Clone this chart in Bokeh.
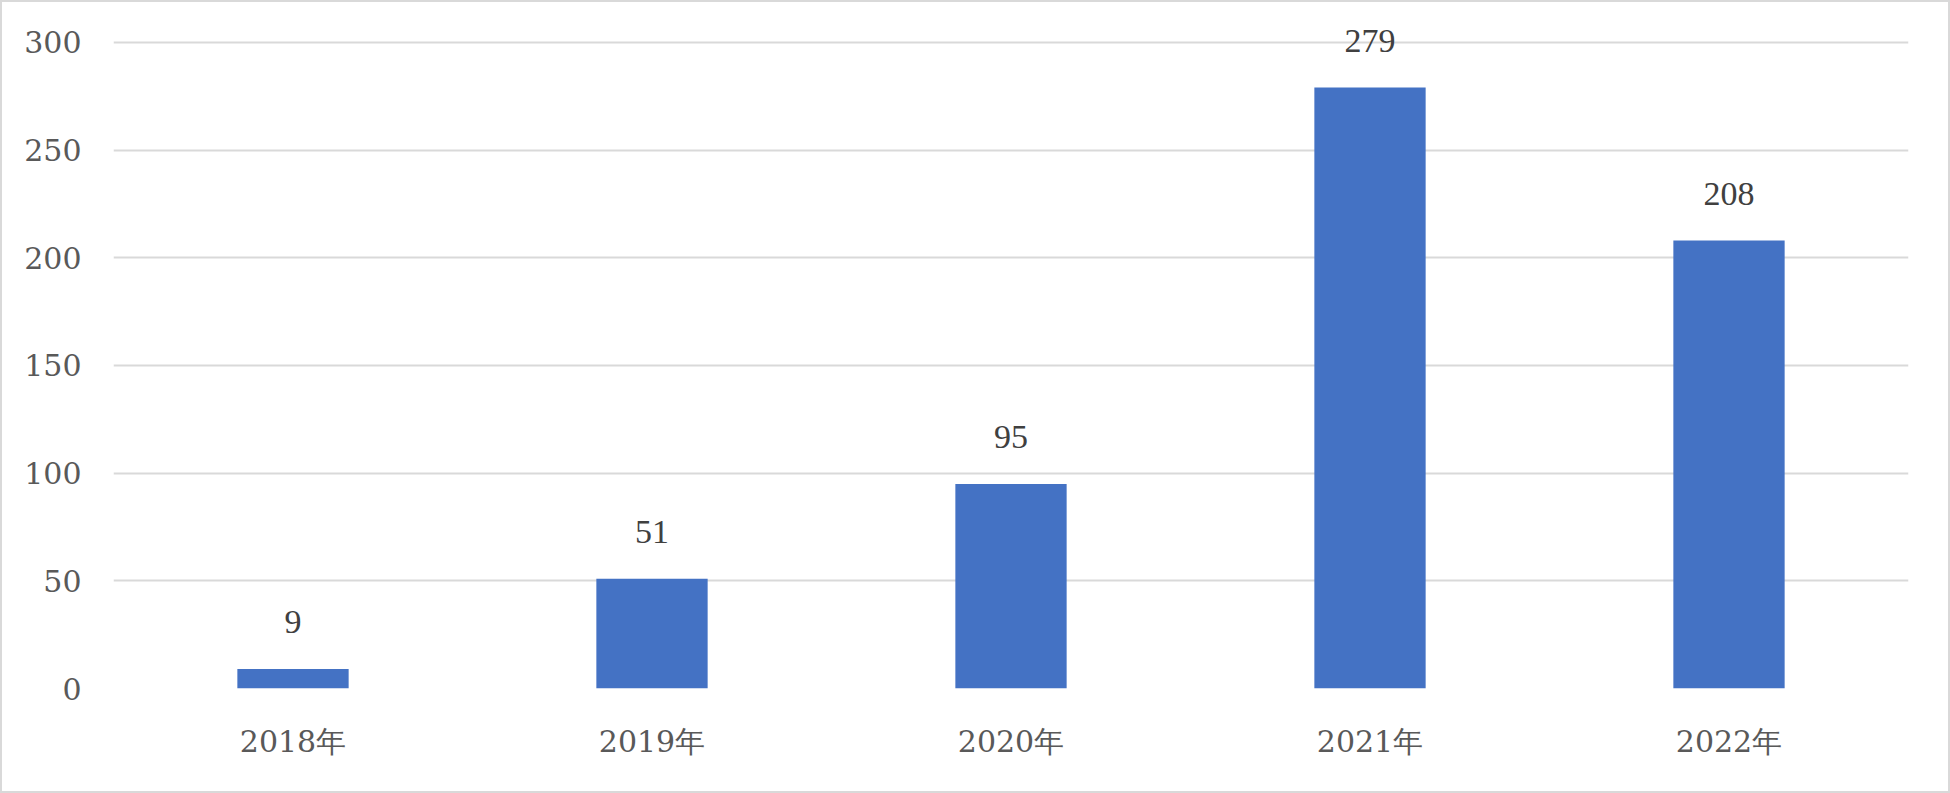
from bokeh.plotting import figure
from bokeh.models import ColumnDataSource, LabelSet, FactorRange, FixedTicker
from bokeh.embed import file_html
from bokeh.resources import INLINE

categories = ["2018年", "2019年", "2020年", "2021年", "2022年"]
values = [9, 51, 95, 279, 208]
y_ticks = [0, 50, 100, 150, 200, 250, 300]

source = ColumnDataSource(dict(cat=categories, val=values, lab=[str(v) for v in values]))

p = figure(
    x_range=FactorRange(*categories), y_range=(0, 312),
    width=1950, height=793, output_backend="svg", toolbar_location=None,
    min_border_left=111, min_border_right=44, min_border_top=14, min_border_bottom=107,
)
p.styles = {"border": "2px solid #d9d9d9", "box-sizing": "border-box"}
p.outline_line_color = None
p.background_fill_color = "white"
p.border_fill_color = "white"

p.vbar(x="cat", top="val", width=0.31, source=source, color="#4472C4", line_color=None)

labels = LabelSet(x="cat", y="val", text="lab", source=source, text_align="center",
                  text_baseline="alphabetic", y_offset=36, text_font_size="34px",
                  text_color="#404040", text_font="serif")
p.add_layout(labels)

p.xgrid.grid_line_color = None
p.ygrid.grid_line_color = "#d9d9d9"
p.ygrid.grid_line_width = 1.8

p.yaxis.ticker = FixedTicker(ticks=y_ticks)
for ax in (p.xaxis[0], p.yaxis[0]):
    ax.axis_line_color = None
    ax.major_tick_line_color = None
    ax.minor_tick_line_color = None
    ax.major_label_text_font = "DejaVu Serif"
    ax.major_label_text_font_size = "30px"
    ax.major_label_text_color = "#595959"
p.yaxis.major_label_standoff = 26
p.xaxis.major_label_standoff = 29

open("out.html", "w").write(file_html(p, INLINE))
